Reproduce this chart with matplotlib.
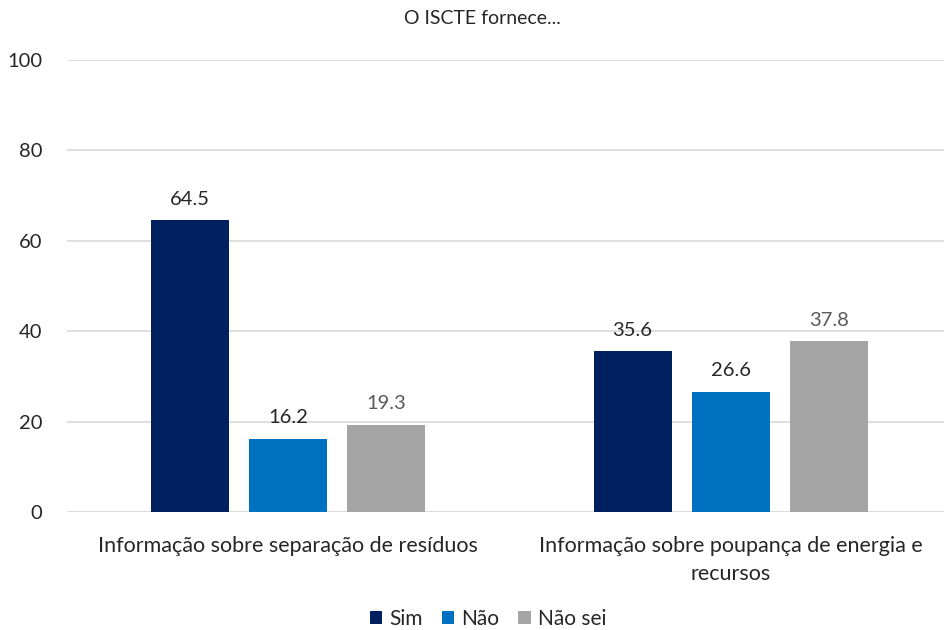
import numpy as np
import matplotlib
matplotlib.use("Agg")
import matplotlib.pyplot as plt

plt.rcParams['font.family'] = ['Lato', 'DejaVu Sans']

title = "O ISCTE fornece..."
categories = ["Informação sobre separação de resíduos",
              "Informação sobre poupança de energia e\nrecursos"]
series_names = ["Sim", "Não", "Não sei"]
sim = [64.5, 35.6]
nao = [16.2, 26.6]
nao_sei = [19.3, 37.8]
y_ticks = [0, 20, 40, 60, 80, 100]

colors = ["#002060", "#0070C0", "#A5A5A5"]
label_colors = ["#262626", "#262626", "#595959"]

W, H = 944, 630
fig = plt.figure(figsize=(W / 100, H / 100), dpi=100)
ax = fig.add_axes([67 / W, (H - 512) / H, (W - 67) / W, (512 - 60) / H])

x = np.arange(len(categories))
width = 0.176
step = 0.222
for i, (name, vals) in enumerate(zip(series_names, [sim, nao, nao_sei])):
    pos = x + (i - 1) * step
    bars = ax.bar(pos, vals, width, color=colors[i], label=name, zorder=2)
    for b, v in zip(bars, vals):
        ax.annotate(f"{v:.1f}", (b.get_x() + b.get_width() / 2, v),
                    xytext=(0, 9), textcoords="offset points",
                    ha="center", va="bottom", fontsize=14.5,
                    color=label_colors[i])

ax.set_xlim(-0.4989, 1.481)
ax.set_ylim(0, 100)
ax.set_yticks(y_ticks)
ax.set_yticklabels([str(t) for t in y_ticks], fontsize=14.5, color="#262626")
ax.set_xticks(x)
ax.set_xticklabels(categories, fontsize=15.5, color="#262626", linespacing=1.5)
ax.tick_params(axis="both", length=0)
ax.tick_params(axis="y", pad=18)
ax.tick_params(axis="x", pad=17)
ax.yaxis.grid(True, color="#D9D9D9", linewidth=1.2, zorder=0)
ax.set_axisbelow(True)
for s in ax.spines.values():
    s.set_visible(False)
ax.axhline(0, color="#D9D9D9", linewidth=1.2, zorder=1)

fig.text(482 / W, 1 - 18 / H, title, ha="center", va="center",
         fontsize=14, color="#262626")

handles, labels = ax.get_legend_handles_labels()
fig.legend(handles, labels, loc="center", bbox_to_anchor=(488 / W, 1 - 619 / H),
           ncol=3, frameon=False, fontsize=15, handlelength=0.6,
           handleheight=0.6, handletextpad=0.35, columnspacing=0.9,
           labelcolor="#262626")

fig.savefig("out.png", dpi=100)
